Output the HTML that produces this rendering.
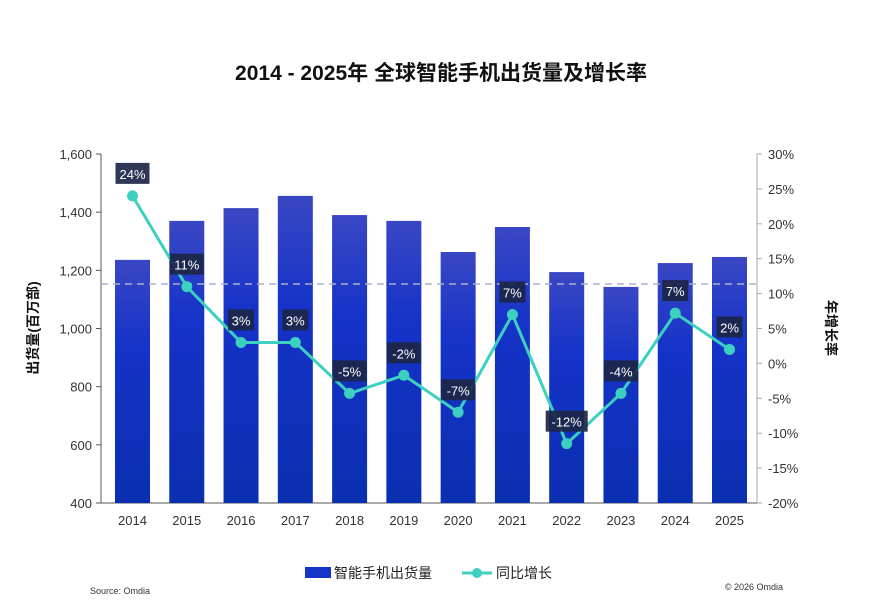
<!DOCTYPE html>
<html><head><meta charset="utf-8"><style>
body{margin:0;background:#fff;}
svg text{font-family:"Liberation Sans","Noto Sans CJK SC",sans-serif;}
</style></head><body>
<svg id="chart" width="882" height="610" viewBox="0 0 882 610">
<defs><linearGradient id="bg" x1="0" y1="0" x2="0" y2="1"><stop offset="0" stop-color="#3a47c4"/><stop offset="0.35" stop-color="#1533c8"/><stop offset="1" stop-color="#0a2fb0"/></linearGradient></defs>
<text x="441" y="80" text-anchor="middle" font-size="21" font-weight="bold" fill="#111">2014 - 2025年 全球智能手机出货量及增长率</text>
<g id="plot"></g>
</svg>
<script>
const years=["2014","2015","2016","2017","2018","2019","2020","2021","2022","2023","2024","2025"];
const shipments=[1236,1370,1414,1456,1390,1370,1263,1349,1194,1143,1225,1246];
const growth=[24,11,3,3,-4.3,-1.7,-7,7,-11.5,-4.3,7.2,2];
const growthLabels=["24%","11%","3%","3%","-5%","-2%","-7%","7%","-12%","-4%","7%","2%"];
const leftTicks=[400,600,800,1000,1200,1400,1600];
const rightTicks=[-20,-15,-10,-5,0,5,10,15,20,25,30];
const refLine=1153;
const NS="http://www.w3.org/2000/svg";
const g=document.getElementById('plot');
const yTop=154,yBot=503,xL=101,xR=757;
const yL=v=>yBot-(v-400)/1200*(yBot-yTop);
const yR=v=>yBot-(v+20)/50*(yBot-yTop);
const xC=i=>132.5+i*(729.5-132.5)/(years.length-1);
function mk(t,a,p){const e=document.createElementNS(NS,t);for(const k in a)e.setAttribute(k,a[k]);(p||g).appendChild(e);return e;}
let e=mk('line',{x1:xL,y1:yTop,x2:xL,y2:yBot,stroke:'#555','stroke-width':1});


e=mk('line',{x1:xR,y1:yTop,x2:xR,y2:yBot,stroke:'#aaa','stroke-width':1});


e=mk('line',{x1:xL,y1:yBot,x2:xR,y2:yBot,stroke:'#555','stroke-width':1});


leftTicks.forEach(v=>{
 mk('line',{x1:xL-5,y1:yL(v),x2:xL,y2:yL(v),stroke:'#555'});
 const t=mk('text',{x:xL-9,y:yL(v)+5,'text-anchor':'end','font-size':13,fill:'#333'});t.textContent=v.toLocaleString('en-US');
 
 
});
rightTicks.forEach(v=>{
 mk('line',{x1:xR,y1:yR(v),x2:xR+5,y2:yR(v),stroke:'#aaa'});
 const t=mk('text',{x:xR+11,y:yR(v)+5,'font-size':13,fill:'#333'});t.textContent=v+'%';
 
 
});
years.forEach((y,i)=>{
 const r=mk('rect',{x:xC(i)-17.5,y:yL(shipments[i]),width:35,height:yBot-yL(shipments[i]),fill:'url(#bg)'});
 
 
 const t=mk('text',{x:xC(i),y:yBot+22,'text-anchor':'middle','font-size':13,fill:'#333'});t.textContent=y;
 
 
});
e=mk('line',{x1:xL,y1:yL(refLine),x2:xR,y2:yL(refLine),stroke:'#aab0c8','stroke-width':1.5,'stroke-dasharray':'7,5'});


const pts=growth.map((v,i)=>xC(i)+','+yR(v)).join(' ');
e=mk('polyline',{points:pts,fill:'none',stroke:'#3cd0c0','stroke-width':3});


growth.forEach((v,i)=>{
 const c=mk('circle',{cx:xC(i),cy:yR(v),r:5.5,fill:'#3cd0c0'});
 
 
 const w=growthLabels[i].length*8+10,cy=yR(v)-22;
 const b=mk('rect',{x:xC(i)-w/2,y:cy-11,width:w,height:21,fill:'#1c2646',opacity:0.92});
 
 
 const t=mk('text',{x:xC(i),y:cy+5,'text-anchor':'middle','font-size':13,fill:'#fff'});t.textContent=growthLabels[i];
 
 
});
let t=mk('text',{x:38,y:328,'text-anchor':'middle','font-size':14,'font-weight':'bold',fill:'#111',transform:'rotate(-90 38 328)'});t.textContent='出货量(百万部)';


t=mk('text',{x:826,y:328,'text-anchor':'middle','font-size':14,'font-weight':'bold',fill:'#111',transform:'rotate(90 826 328)'});t.textContent='年增长率';


e=mk('rect',{x:305,y:567,width:26,height:11,fill:'#1533c8'});


t=mk('text',{x:334,y:578,'font-size':14,fill:'#222'});t.textContent='智能手机出货量';


e=mk('line',{x1:462,y1:573,x2:492,y2:573,stroke:'#3cd0c0','stroke-width':3});


mk('circle',{cx:477,cy:573,r:5,fill:'#3cd0c0'});
t=mk('text',{x:496,y:578,'font-size':14,fill:'#222'});t.textContent='同比增长';


t=mk('text',{x:90,y:594,'font-size':9,fill:'#333'});t.textContent='Source: Omdia';


t=mk('text',{x:783,y:590,'text-anchor':'end','font-size':9,fill:'#333'});t.textContent='© 2026 Omdia';


</script>
</body></html>
